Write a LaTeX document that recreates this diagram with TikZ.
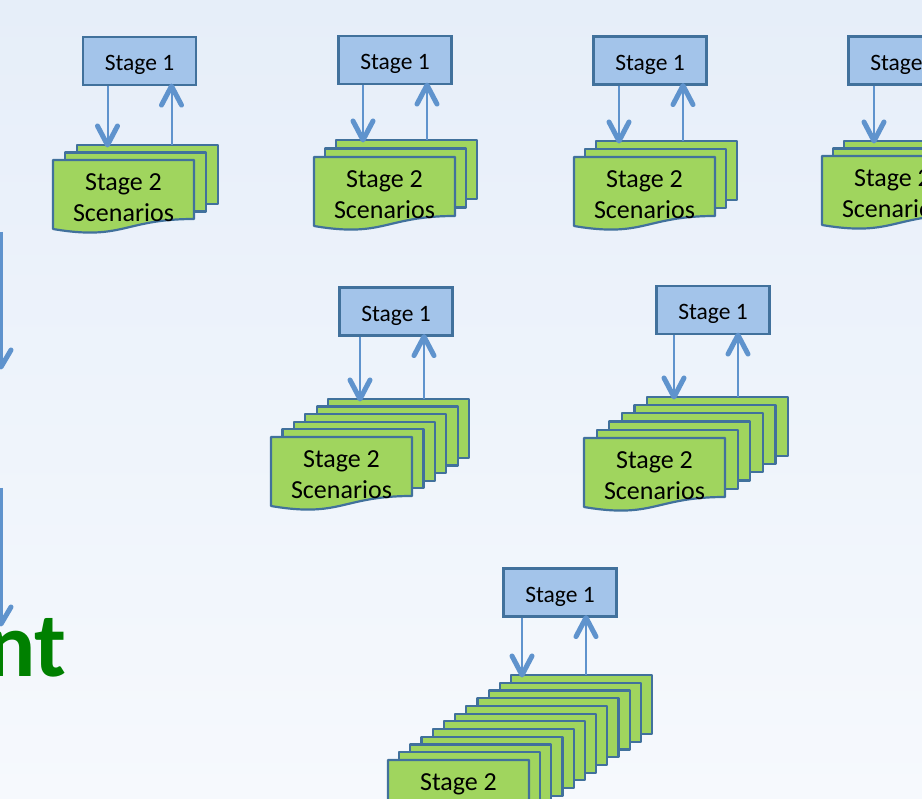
\documentclass[tikz,border=0pt]{standalone}
\usepackage{fontspec}
\setmainfont{Carlito}
\usetikzlibrary{calc}

\definecolor{stageblue}{HTML}{A3C4EA}
\definecolor{edgeblue}{HTML}{41719C}
\definecolor{sheetgreen}{HTML}{A0D55E}
\definecolor{flowblue}{HTML}{5F93CD}
\definecolor{bgtop}{HTML}{E6EEF9}
\definecolor{bgbottom}{HTML}{F6F9FD}
\definecolor{titlegreen}{HTML}{008000}

\tikzset{
  stagebox/.style={draw=edgeblue, fill=stageblue, line width=2.2pt,
    minimum width=113pt, minimum height=48pt, inner sep=0pt,
    text height=20pt, text depth=0pt,
    font=\fontsize{23.5}{28}\selectfont},
  sheet/.style={draw=edgeblue, fill=sheetgreen, line width=2.2pt, line join=round},
  sheettext/.style={align=center, inner sep=0pt, font=\fontsize{26}{31}\selectfont},
  flow/.style={draw=flowblue, line width=2pt},
  barb/.style={draw=flowblue, line width=5pt, line cap=round, line join=round},
}

% open V head at #1, arms going off by #2 in y
\newcommand{\vhead}[2]{
  \draw[barb] ($(#1)+(-10,#2)$) -- (#1) -- ($(#1)+(10,#2)$);
}

% one Stage 1 box over a stack of Stage 2 scenario sheets
% #1 name, #2 centre of Stage 1, #3 top left of the back sheet,
% #4 top left of the front sheet, #5 number of sheets, #6 shift of the arrows
\newcommand{\stagegroup}[6]{
  \node[stagebox] (#1) at (#2) {Stage 1};
  \coordinate (#1-back) at (#3);
  \coordinate (#1-f) at (#4);
  \pgfmathtruncatemacro\nlast{#5-1}
  \pgfmathtruncatemacro\nrect{#5-2}
  \foreach \i in {0,...,\nrect}
    \draw[sheet] ($(#1-back)!{\i/\nlast}!(#1-f)$) rectangle ++(141,59);
  \draw[sheet] (#1-f) -- ++(141,0) -- ++(0,59)
    .. controls ($(#1-f)+(70.5,59)$) and ($(#1-f)+(70.5,81)$) .. ($(#1-f)+(0,69)$)
    -- cycle;
  \node[sheettext] (#1-txt) at ($(#1-f)+(70.5,38)$) {Stage 2\\Scenarios};
  % the two connectors between the stages
  \coordinate (#1-dn) at ($(#1.south)+({-32+(#6)},0)$);
  \coordinate (#1-up) at ($(#1.south)+({32+(#6)},0)$);
  \coordinate (#1-dtip) at (#1-dn |- #1-back);
  \coordinate (#1-ufoot) at (#1-up |- #1-back);
  \draw[flow] (#1-dn) -- (#1-dtip);
  \vhead{#1-dtip}{-19}
  \draw[flow] (#1-ufoot) -- (#1-up);
  \vhead{#1-up}{19}
}

\begin{document}
\begin{tikzpicture}[x=1pt, y=-1pt]
  \useasboundingbox (0,0) rectangle (922,799);
  \clip (0,0) rectangle (922,799);
  \shade[top color=bgtop, bottom color=bgbottom] (0,0) rectangle (922,799);

  % top row: three sheets each
  \stagegroup{ga}{139.5,61}{77,145}{53,160}{3}{0}
  \stagegroup{gb}{395,60}{336,140}{314,157}{3}{0}
  \stagegroup{gc}{650,60.5}{596,141}{574,157}{3}{1}
  \stagegroup{gd}{905,60.5}{844,141}{822,156}{3}{1}
  % middle row: six sheets each
  \stagegroup{ge}{396,311.5}{328,399}{271,437}{6}{-4}
  \stagegroup{gf}{713,310}{647,397}{584,438}{6}{-7}
  % bottom: twelve sheets
  \stagegroup{gg}{560,592.5}{511,675}{388,760}{12}{-6}

  % arrows coming in from the left
  \coordinate (la-top) at (1,232);
  \coordinate (la-end) at (1,367);
  \coordinate (lb-top) at (1,488);
  \coordinate (lb-end) at (1,624);
  \draw[flow, line width=3pt] (la-top) -- (la-end);
  \vhead{la-end}{-17}
  \draw[flow, line width=3pt] (lb-top) -- (lb-end);
  \vhead{lb-end}{-17}

  \node[anchor=base east, inner sep=0pt, text=titlegreen,
    font=\fontsize{92}{92}\selectfont\bfseries] (title) at (67,676) {nt};
\end{tikzpicture}
\end{document}
